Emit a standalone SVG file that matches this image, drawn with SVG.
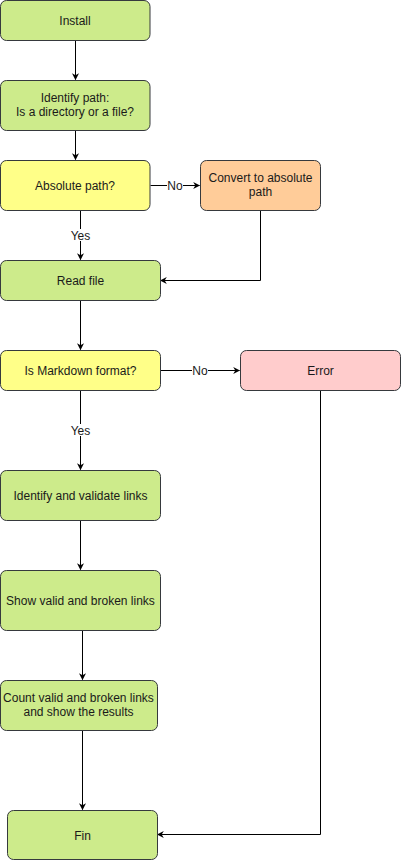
<svg xmlns="http://www.w3.org/2000/svg" width="401" height="860" viewBox="0 0 401 860">
<defs>
<marker id="ah" viewBox="0 0 10 10" refX="9" refY="5" markerWidth="7" markerHeight="7" orient="auto" markerUnits="userSpaceOnUse">
<path d="M0,0 L10,5 L0,10 L3,5 Z" fill="#000"/>
</marker>
<style>
.n{stroke:#36393d;stroke-width:1}
.g{fill:#cdeb8b}.y{fill:#ffff88}.o{fill:#ffcc99}.p{fill:#ffcccc}
text{font-family:"Liberation Sans",Arial,sans-serif;font-size:12px;fill:#1a1a1a;text-anchor:middle}
.e{fill:none;stroke:#000;stroke-width:1;marker-end:url(#ah)}
.lb{fill:#fff}
</style>
</defs>
<rect width="401" height="860" fill="#fff"/>
<g id="connectors">
<path class="e" d="M75.5,40.5 V79.5"/>
<path class="e" d="M75.5,130.5 V159.5"/>
<path class="e" d="M150.5,185.5 H199.5"/>
<path class="e" d="M80.5,210.5 V259.5"/>
<path class="e" d="M260.5,210.5 V280.5 H160.5"/>
<path class="e" d="M80.5,300.5 V349.5"/>
<path class="e" d="M160.5,370.5 H239.5"/>
<path class="e" d="M80.5,390.5 V469.5"/>
<path class="e" d="M80.5,520.5 V569.5"/>
<path class="e" d="M82.5,630.5 V679.5"/>
<path class="e" d="M82.5,730.5 V809.5"/>
<path class="e" d="M320.5,390.5 V834.5 H157.5"/>
<rect class="lb" x="167" y="179" width="16" height="12"/>
<text x="175" y="189.5">No</text>
<rect class="lb" x="70" y="229" width="21" height="12"/>
<text x="80.5" y="239.5">Yes</text>
<rect class="lb" x="192" y="364" width="16" height="12"/>
<text x="200" y="374.5">No</text>
<rect class="lb" x="70" y="424" width="21" height="12"/>
<text x="80.5" y="434.5">Yes</text>
</g>
<g id="install"><rect class="n g" x="0.5" y="0.5" width="149.5" height="40" rx="6"/><text x="75" y="24.5">Install</text></g>
<g id="identify-path"><rect class="n g" x="0.5" y="80.5" width="149.5" height="50" rx="6"/><text x="75" y="102">Identify path:</text><text x="75" y="116">Is a directory or a file?</text></g>
<g id="absolute"><rect class="n y" x="0.5" y="160.5" width="149.5" height="50" rx="6"/><text x="75" y="189.5">Absolute path?</text></g>
<g id="convert"><rect class="n o" x="200.5" y="160.5" width="120" height="50" rx="6"/><text x="260.5" y="182">Convert to absolute</text><text x="260.5" y="196">path</text></g>
<g id="read"><rect class="n g" x="0.5" y="260.5" width="160" height="40" rx="6"/><text x="80.5" y="284.5">Read file</text></g>
<g id="markdown"><rect class="n y" x="0.5" y="350.5" width="160" height="40" rx="6"/><text x="80.5" y="374.5">Is Markdown format?</text></g>
<g id="error"><rect class="n p" x="240.5" y="350.5" width="160" height="40" rx="6"/><text x="320.5" y="374.5">Error</text></g>
<g id="validate"><rect class="n g" x="0.5" y="470.5" width="160" height="50" rx="6"/><text x="80.5" y="499.5">Identify and validate links</text></g>
<g id="show"><rect class="n g" x="0.5" y="570.5" width="160" height="60" rx="6"/><text x="80.5" y="604.5">Show valid and broken links</text></g>
<g id="count"><rect class="n g" x="0.5" y="680.5" width="157" height="50" rx="6"/><text x="78.5" y="702">Count valid and broken links</text><text x="78.5" y="716">and show the results</text></g>
<g id="fin"><rect class="n g" x="7.5" y="810.5" width="150" height="49" rx="6"/><text x="82.5" y="839.5">Fin</text></g>
</svg>
